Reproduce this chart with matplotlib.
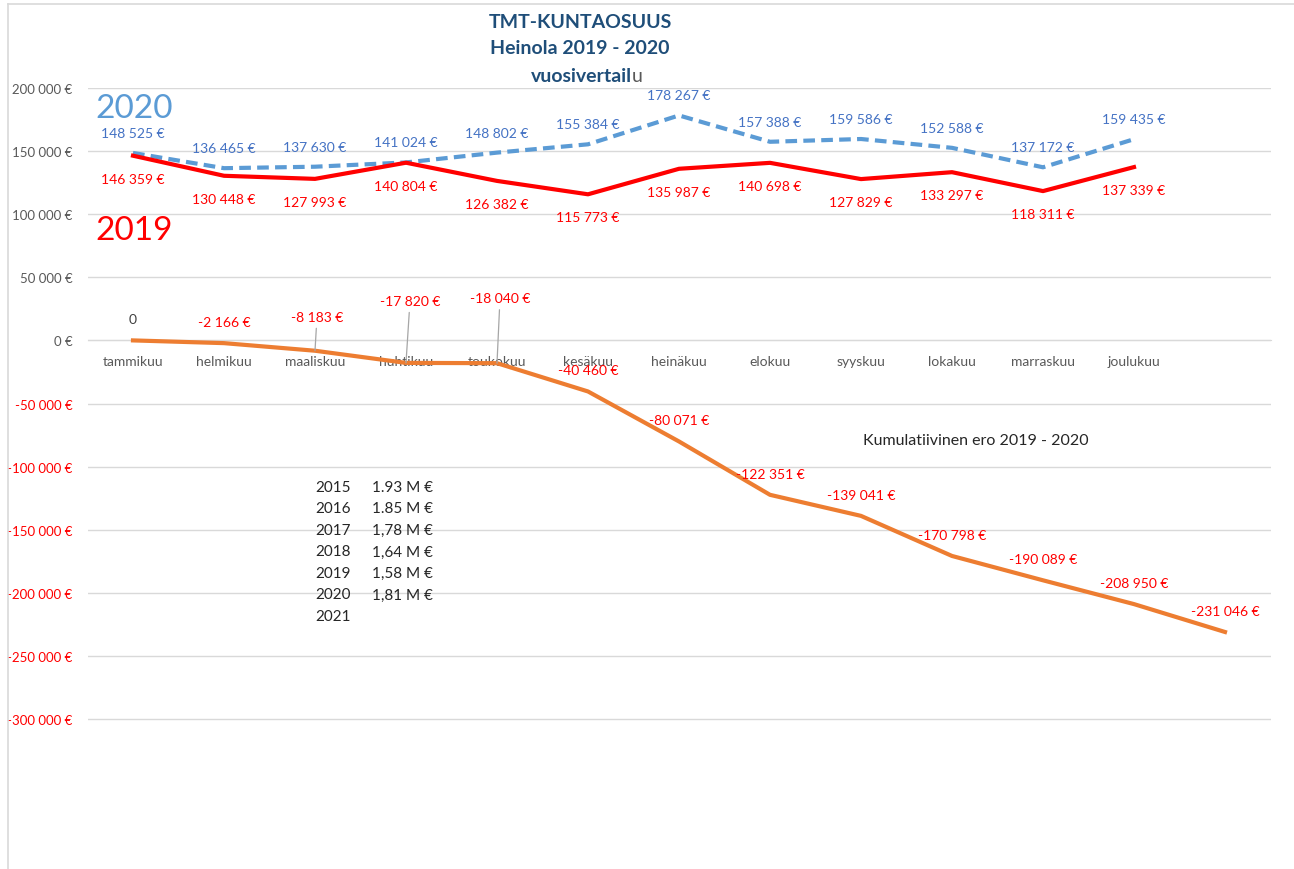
import matplotlib
matplotlib.use("Agg")
import matplotlib.pyplot as plt
from matplotlib.lines import Line2D

plt.rcParams['font.family'] = ['Lato', 'DejaVu Sans']

months = ["tammikuu", "helmikuu", "maaliskuu", "huhtikuu", "toukokuu", "kesäkuu",
          "heinäkuu", "elokuu", "syyskuu", "lokakuu", "marraskuu", "joulukuu"]
v2020 = [148525, 136465, 137630, 141024, 148802, 155384, 178267, 157388, 159586, 152588, 137172, 159435]
v2019 = [146359, 130448, 127993, 140804, 126382, 115773, 135987, 140698, 127829, 133297, 118311, 137339]
cumul = [0, -2166, -8183, -17820, -18040, -40460, -80071, -122351, -139041, -170798, -190089, -208950, -231046]

hist_years = ["2015", "2016", "2017", "2018", "2019", "2020", "2021"]
hist_vals = ["1.93 M €", "1.85 M €", "1,78 M €", "1,64 M €", "1,58 M €", "1,81 M €", ""]

def eur(v):
    return f"{v:,.0f}".replace(",", " ") + " €"

W, H = 1294, 870
fig = plt.figure(figsize=(W / 100, H / 100), dpi=100)
ax = fig.add_axes([87.5 / W, 36.4 / H, 1183 / W, (833.6 - 89) / H])
ax.set_xlim(-0.5, 12.5)
ax.set_ylim(-390000, 200000)

grid = "#D9D9D9"
ax.set_yticks(range(-300000, 200001, 50000))
ax.grid(axis="y", color=grid, lw=1)
ax.set_axisbelow(True)
for s in ["top", "right", "left"]:
    ax.spines[s].set_visible(False)
ax.spines["bottom"].set_position(("data", 0))
ax.spines["bottom"].set_color(grid)
ax.tick_params(axis="y", length=0, pad=11, labelsize=9.5)
ax.tick_params(axis="x", length=0, pad=10.5, labelsize=10, labelcolor="#595959")
ax.set_xticks(range(12))
ax.set_xticklabels(months)
ax.set_yticklabels([eur(t) for t in ax.get_yticks()])
for t, lab in zip(ax.get_yticks(), ax.get_yticklabels()):
    lab.set_color("#FF0000" if t < 0 else "#595959")

x12 = list(range(12))
x13 = list(range(13))
ax.plot(x12, v2020, color="#5B9BD5", lw=3, dashes=(2.8, 1.5), zorder=3)
ax.plot(x12, v2019, color="#FF0000", lw=3, zorder=3)
ax.plot(x13, cumul, color="#ED7D31", lw=3, zorder=3)

for x, v in zip(x12, v2020):
    ax.annotate(eur(v), (x, v), xytext=(0, 20), textcoords="offset pixels",
                ha="center", va="center", fontsize=10, color="#4472C4")
for x, v in zip(x12, v2019):
    ax.annotate(eur(v), (x, v), xytext=(0, -23), textcoords="offset pixels",
                ha="center", va="center", fontsize=10, color="#FF0000")

leader = {2: (2, 34), 3: (4, 62), 4: (3, 65)}
for x, v in zip(x13, cumul):
    txt = "0" if v == 0 else eur(v)
    col = "#404040" if v == 0 else "#FF0000"
    if x in leader:
        ax.annotate(txt, (x, v), xytext=leader[x], textcoords="offset pixels",
                    ha="center", va="center", fontsize=10, color=col,
                    arrowprops=dict(arrowstyle="-", color="#A6A6A6", lw=0.9,
                                    shrinkA=2, shrinkB=0))
    else:
        ax.annotate(txt, (x, v), xytext=(0, 21), textcoords="offset pixels",
                    ha="center", va="center", fontsize=10, color=col)

# big year labels
fig.text(95 / W, 1 - 109 / H, "2020", color="#5B9BD5", fontsize=24, ha="left", va="center")
fig.text(95 / W, 1 - 231 / H, "2019", color="#FF0000", fontsize=24, ha="left", va="center")

# title
tcol = "#1F4E79"
fig.text(580 / W, 1 - 22 / H, "TMT-KUNTAOSUUS", color=tcol, fontsize=14, fontweight="bold",
         ha="center", va="center")
fig.text(580 / W, 1 - 49 / H, "Heinola 2019 - 2020", color=tcol, fontsize=14, fontweight="bold",
         ha="center", va="center")
fig.text(632 / W, 1 - 76 / H, "vuosivertail", color=tcol, fontsize=14, fontweight="bold",
         ha="right", va="center")
fig.text(632 / W, 1 - 76 / H, "u", color="#595959", fontsize=14, ha="left", va="center")

fig.text(863 / W, 1 - 441 / H, "Kumulatiivinen ero 2019 - 2020", color="#262626",
         fontsize=11.5, ha="left", va="center")

for i, (y, val) in enumerate(zip(hist_years, hist_vals)):
    yy = 1 - (488 + 21.5 * i) / H
    fig.text(315 / W, yy, y, color="#262626", fontsize=11, ha="left", va="center")
    fig.text(372 / W, yy, val, color="#262626", fontsize=11, ha="left", va="center")

# chart frame
fig.add_artist(Line2D([8 / W, 1], [1 - 5 / H, 1 - 5 / H], color=grid, lw=1.2))
fig.add_artist(Line2D([8 / W, 8 / W], [0, 1 - 5 / H], color=grid, lw=1.2))

fig.savefig("out.png", dpi=100, facecolor="white")
